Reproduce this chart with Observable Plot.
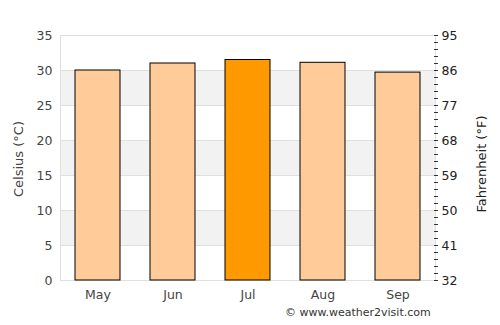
<!DOCTYPE html>
<html>
<head>
<meta charset="utf-8">
<script src="https://cdn.jsdelivr.net/npm/d3@7"></script>
<script src="https://cdn.jsdelivr.net/npm/@observablehq/plot@0.6"></script>
<style>
  html, body { margin: 0; padding: 0; background: #fff; }
  #chart { position: relative; width: 500px; height: 325px; }
  #credit { position: absolute; left: 285px; top: 306px; font: 11px "DejaVu Sans", sans-serif; color: #333; white-space: nowrap; }
</style>
</head>
<body>
<div id="chart"><div id="credit">© www.weather2visit.com</div></div>
<script>
const months = ["May", "Jun", "Jul", "Aug", "Sep"];
const celsius = [30.0, 31.0, 31.5, 31.1, 29.7];
const highlight = ["Jul"];
const celsiusTicks = [0, 5, 10, 15, 20, 25, 30, 35];
const fahrenheitLabels = ["32", "41", "50", "59", "68", "77", "86", "95"];
const bandStarts = [5, 15, 25];
const minorTicks = d3.range(0, 36, 1);

const data = months.map((m, i) => ({month: m, c: celsius[i], hot: highlight.includes(m)}));
const bands = bandStarts.map(b => ({y1: b, y2: b + 5}));

const chart = Plot.plot({
  width: 500,
  height: 325,
  marginLeft: 60,
  marginRight: 65,
  marginTop: 35,
  marginBottom: 45,
  style: {fontFamily: "DejaVu Sans, sans-serif", fontSize: "12px", color: "#444", background: "#fff"},
  x: {domain: months, paddingInner: 0.4, paddingOuter: 0.2, label: null},
  y: {domain: [0, 35], label: null},
  marks: [
    Plot.rectY(bands, {y1: "y1", y2: "y2", fill: "#f2f2f2"}),
    Plot.ruleY(celsiusTicks, {stroke: "#e0e0e0", strokeWidth: 1}),
    Plot.frame({anchor: "left", stroke: "#e0e0e0", strokeOpacity: 1}),
    Plot.frame({anchor: "right", stroke: "#e0e0e0", strokeOpacity: 1}),
    Plot.barY(data, {x: "month", y: "c", fill: d => d.hot ? "#ff9900" : "#ffcc99", stroke: "#000", strokeWidth: 1}),
    Plot.axisY({ticks: celsiusTicks, anchor: "left", tickSize: 0, tickPadding: 8, label: null, fill: "#444", fontSize: 12.5}),
    Plot.axisY({ticks: minorTicks, anchor: "right", tickSize: 4, tickPadding: 0, tickFormat: () => "", label: null, stroke: "#333", dx: -2}),
    Plot.axisY({ticks: celsiusTicks, anchor: "right", tickSize: 0, tickPadding: 6, label: null, fill: "#222", fontSize: 12.5,
      tickFormat: (d) => fahrenheitLabels[celsiusTicks.indexOf(d)]}),
    Plot.axisX({tickSize: 0, tickPadding: 10, label: null, fill: "#444", fontSize: 12.5}),
    Plot.text(["Celsius (°C)"], {frameAnchor: "left", dx: -42, dy: 1, rotate: -90, textAnchor: "middle", fill: "#444", fontSize: 13}),
    Plot.text(["Fahrenheit (°F)"], {frameAnchor: "right", dx: 46, dy: 6, rotate: -90, textAnchor: "middle", fill: "#222", fontSize: 13})
  ]
});

document.getElementById("chart").insertBefore(chart, document.getElementById("credit"));
</script>
</body>
</html>
